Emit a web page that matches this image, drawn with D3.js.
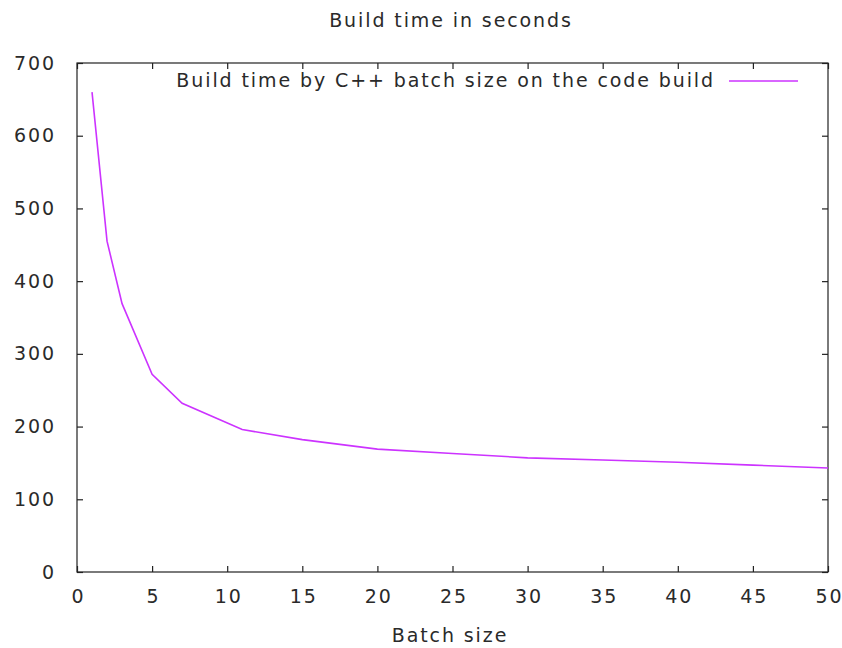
<!DOCTYPE html>
<html>
<head>
<meta charset="utf-8">
<script src="https://cdn.jsdelivr.net/npm/d3@7"></script>
<style>
  html, body { margin: 0; padding: 0; background: #fff; }
  svg text { font-family: "DejaVu Sans", sans-serif; fill: #2a2a2a; letter-spacing: 1.9px; }
</style>
</head>
<body>
<svg id="chart" width="842" height="648"></svg>
<script>
// Batch sizes and the measured build time (seconds) for each
const batchSizes = [1, 2, 3, 5, 7, 11, 15, 20, 25, 30, 35, 40, 45, 50];
const buildSeconds = [660, 455, 369, 272, 232, 196, 182, 169, 163, 157, 154, 151, 147, 143];
const xTicks = [0, 5, 10, 15, 20, 25, 30, 35, 40, 45, 50];
const yTicks = [0, 100, 200, 300, 400, 500, 600, 700];

const chartTitle = "Build time in seconds";
const seriesName = "Build time by C++ batch size on the code build";
const xLabel = "Batch size";
const lineColor = "#cc33ff";

(function () {
  const svg = d3.select("#chart");
  const plotLeft = 77, plotRight = 828, plotTop = 63, plotBottom = 572;

  const x = d3.scaleLinear().domain([0, 50]).range([plotLeft, plotRight]);
  const y = d3.scaleLinear().domain([0, 700]).range([plotBottom, plotTop]);

  const fontSize = 19;
  const tickLen = 6;

  // Plot frame
  svg.append("rect")
    .attr("x", plotLeft).attr("y", plotTop)
    .attr("width", plotRight - plotLeft).attr("height", plotBottom - plotTop)
    .attr("fill", "none").attr("stroke", "#222").attr("stroke-width", 1.2);

  // Bottom axis (inward ticks) and mirrored top ticks
  const xAxis = svg.append("g").attr("transform", `translate(0,${plotBottom})`)
    .call(d3.axisBottom(x).tickValues(xTicks).tickSizeInner(-tickLen).tickSizeOuter(0).tickPadding(18));
  svg.append("g").attr("transform", `translate(0,${plotTop})`)
    .call(d3.axisTop(x).tickValues(xTicks).tickSizeInner(-tickLen).tickSizeOuter(0).tickFormat(""));

  // Left axis and mirrored right ticks
  svg.append("g").attr("transform", `translate(${plotLeft},0)`)
    .call(d3.axisLeft(y).tickValues(yTicks).tickSizeInner(-tickLen).tickSizeOuter(0).tickPadding(21));
  svg.append("g").attr("transform", `translate(${plotRight},0)`)
    .call(d3.axisRight(y).tickValues(yTicks).tickSizeInner(-tickLen).tickSizeOuter(0).tickFormat(""));

  svg.selectAll(".domain").remove();
  svg.selectAll(".tick line").attr("stroke", "#222").attr("stroke-width", 1.2);
  svg.selectAll(".tick text")
    .style("font-family", "'DejaVu Sans', sans-serif")
    .style("font-size", fontSize + "px")
    .attr("fill", "#2a2a2a");
  // centre x labels despite the trailing letter spacing
  xAxis.selectAll(".tick text").attr("dx", "0.95px");

  // Series line
  const line = d3.line()
    .x((d, i) => x(batchSizes[i]))
    .y(d => y(d));
  svg.append("path")
    .datum(buildSeconds)
    .attr("d", line)
    .attr("fill", "none")
    .attr("stroke", lineColor)
    .attr("stroke-width", 1.6);

  // Title
  svg.append("text")
    .attr("x", 451).attr("y", 27)
    .attr("text-anchor", "middle")
    .style("font-size", fontSize + "px")
    .text(chartTitle);

  // Legend
  svg.append("text")
    .attr("x", 715).attr("y", 87)
    .attr("text-anchor", "end")
    .style("font-size", fontSize + "px")
    .text(seriesName);
  svg.append("line")
    .attr("x1", 729).attr("x2", 798)
    .attr("y1", 81).attr("y2", 81)
    .attr("stroke", lineColor).attr("stroke-width", 1.6);

  // X axis label
  svg.append("text")
    .attr("x", 450).attr("y", 642)
    .attr("text-anchor", "middle")
    .style("font-size", fontSize + "px")
    .text(xLabel);
})();
</script>
</body>
</html>
